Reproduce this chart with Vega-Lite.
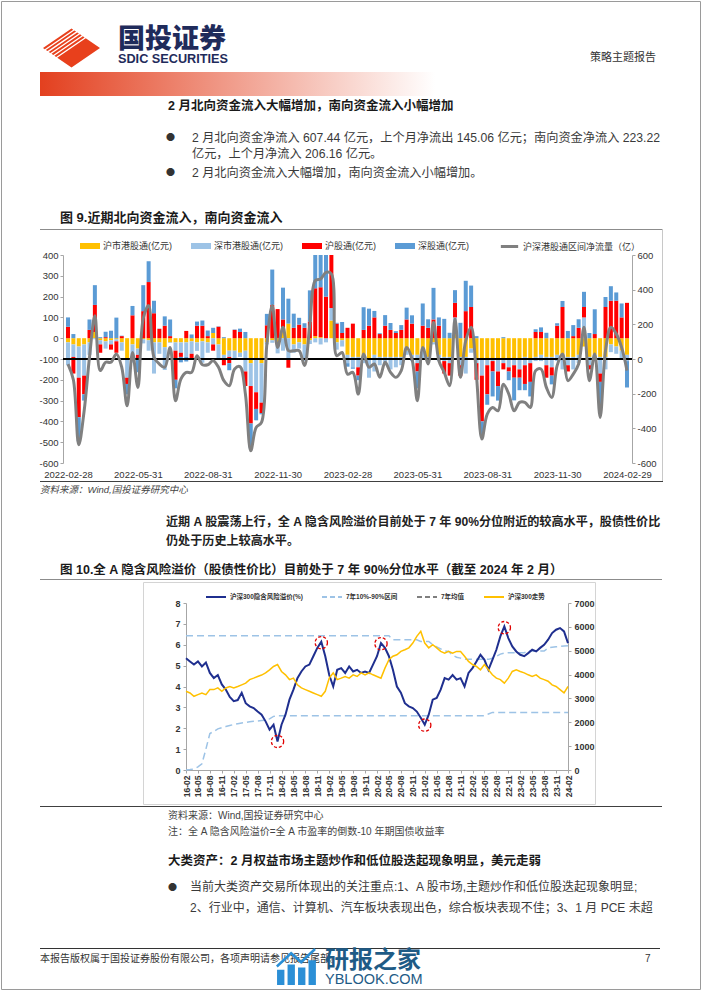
{
"$schema":"https://vega.github.io/schema/vega-lite/v6.json",
"background":"white","padding":0,"spacing":0,"bounds":"flush",
"resolve":{"scale":{"color":"independent","stroke":"independent","strokeDash":"independent"},"legend":{"color":"independent","stroke":"independent","strokeDash":"independent"}},
"config":{"font":"Liberation Sans, Noto Sans CJK SC","view":{"stroke":null},
"locale":{"number":{"decimal":".","thousands":"","grouping":[3],"currency":["",""],"minus":"-"}},
"axis":{"labelFont":"Liberation Sans, Noto Sans CJK SC","labelColor":"#333333","domainColor":"#a6a6a6","tickColor":"#a6a6a6","grid":false,"labelOverlap":false},
"legend":{"labelFont":"Liberation Sans, Noto Sans CJK SC","labelColor":"#333333"}},
"vconcat":[
{"width":702,"height":1,"data":{"values":[{}]},"mark":{"type":"point","size":0,"opacity":0}},
{"hconcat":[
 {"width":1,"height":1,"data":{"values":[{}]},"mark":{"type":"point","size":0,"opacity":0}},
 {"width":699,"height":988,"data":{"values":[{}]},"mark":{"type":"point","size":0,"opacity":0},"view":{"stroke":"#9a9a9a","strokeWidth":1,"fill":null}}
],"spacing":0,"bounds":"flush"},
{"width":702,"height":27,"data":{"values":[{}]},"mark":{"type":"point","size":0,"opacity":0}},
{"hconcat":[
 {"width":40,"height":40,"data":{"values":[{}]},"mark":{"type":"point","size":0,"opacity":0}},
 {"width":60,"height":40,"data":{"values":[{}]},"mark":{"type":"point","filled":true,"opacity":1,"size":3600,"color":"#e8401c","strokeWidth":0,"shape":"M-0.9,0L0.05,-0.65L0.107,-0.611L-0.843,0.039Z M-0.805,0.065L0.145,-0.585L0.202,-0.546L-0.748,0.104Z M-0.71,0.13L0.24,-0.52L0.297,-0.481L-0.653,0.169Z M-0.615,0.195L0.335,-0.455L0.392,-0.416L-0.558,0.234Z M-0.52,0.26L0.43,-0.39L0.487,-0.351L-0.463,0.299Z M-0.425,0.325L0.525,-0.325L1,0L0.05,0.65Z"}},
 {"width":18,"height":40,"data":{"values":[{}]},"mark":{"type":"point","size":0,"opacity":0}},
 {"width":112,"height":40,"data":{"values":[{}]},"mark":{"type":"point","size":0,"opacity":0},
  "title":{"text":"国投证券","subtitle":"SDIC SECURITIES","anchor":"start","frame":"group","offset":-39,"font":"Noto Sans CJK SC","fontSize":27,"fontWeight":900,"color":"#1f2b5b","subtitleFont":"Liberation Sans","subtitleFontSize":12.7,"subtitleFontWeight":"bold","subtitleColor":"#1f2b5b","subtitlePadding":-1}},
 {"width":360,"height":40,"data":{"values":[{}]},"mark":{"type":"point","size":0,"opacity":0}},
 {"width":80,"height":40,"data":{"values":[{}]},"mark":{"type":"point","size":0,"opacity":0},
  "title":{"text":"策略主题报告","anchor":"start","frame":"group","offset":-35,"font":"Noto Sans CJK SC","fontSize":11,"fontWeight":"normal","color":"#333333"}}
],"spacing":0,"bounds":"flush"},
{"width":702,"height":44,"data":{"values":[{}]},"mark":{"type":"point","size":0,"opacity":0}},
{"hconcat":[
 {"width":40,"height":24,"data":{"values":[{}]},"mark":{"type":"point","size":0,"opacity":0}},
 {"width":395,"height":24,"data":{"values":[{}]},"mark":{"type":"point","size":0,"opacity":0},
  "view":{"stroke":null,"fill":{"gradient":"linear","x1":0,"y1":0,"x2":1,"y2":0,"stops":[{"offset":0,"color":"#e3401f"},{"offset":1,"color":"#ffffff"}]}}}
],"spacing":0,"bounds":"flush"},
{"width":702,"height":40,"data":{"values":[{}]},"mark":{"type":"point","size":0,"opacity":0}},
{"width":702,"height":30,"data":{"values":[{}]},"mark":{"type":"point","size":0,"opacity":0},
 "title":{"text":"2 月北向资金流入大幅增加，南向资金流入小幅增加","anchor":"start","frame":"group","offset":0,"dx":168,"fontSize":12.5,"fontWeight":"bold","color":"#1a1a1a"}},
{"width":702,"height":18,"data":{"values":[{}]},"mark":{"type":"point","size":0,"opacity":0},
 "title":{"text":"●","anchor":"start","frame":"group","offset":0,"dx":166,"font":"Noto Sans CJK SC","fontSize":9,"fontWeight":"normal","color":"#333333"}},
{"width":702,"height":17,"data":{"values":[{}]},"mark":{"type":"point","size":0,"opacity":0},
 "title":{"text":["2 月北向资金净流入 607.44 亿元，上个月净流出 145.06 亿元；南向资金净流入 223.22","亿元，上个月净流入 206.16 亿元。"],"anchor":"start","frame":"group","offset":0,"dx":192,"fontSize":12.2,"lineHeight":16,"fontWeight":"normal","color":"#3a3a3a"}},
{"width":702,"height":2,"data":{"values":[{}]},"mark":{"type":"point","size":0,"opacity":0},
 "title":{"text":"●","anchor":"start","frame":"group","offset":0,"dx":166,"font":"Noto Sans CJK SC","fontSize":9,"fontWeight":"normal","color":"#333333"}},
{"width":702,"height":46,"data":{"values":[{}]},"mark":{"type":"point","size":0,"opacity":0},
 "title":{"text":"2 月北向资金流入大幅增加，南向资金流入小幅增加。","anchor":"start","frame":"group","offset":0,"dx":192,"fontSize":12.2,"fontWeight":"normal","color":"#3a3a3a"}},
{"width":702,"height":4,"data":{"values":[{}]},"mark":{"type":"point","size":0,"opacity":0},
 "title":{"text":"图 9.近期北向资金流入，南向资金流入","anchor":"start","frame":"group","offset":0,"dx":60,"fontSize":13,"fontWeight":"bold","color":"#1a1a1a"}},
{"hconcat":[
 {"width":40,"height":1,"data":{"values":[{}]},"mark":{"type":"point","size":0,"opacity":0}},
 {"width":622,"height":1,"data":{"values":[{}]},"mark":{"type":"point","size":0,"opacity":0},"view":{"stroke":null,"fill":"#8c8c8c"}},
 {"width":1,"height":252,"data":{"values":[{}]},"mark":{"type":"point","size":0,"opacity":0},"view":{"stroke":null,"fill":"#c8c8c8"}}
],"spacing":0,"bounds":"flush"},
{"width":702,"height":26,"data":{"values":[{}]},"mark":{"type":"point","size":0,"opacity":0}},
{"hconcat":[
 {"width":63,"height":208,"data":{"values":[{}]},"mark":{"type":"point","size":0,"opacity":0}},
 {"width":569,"height":208,
  "data":{"values":[
{"i":0,"a":-20,"b":-110,"c":55,"d":45,"n":-29},
{"i":1,"a":-30,"b":-60,"c":-80,"d":20,"n":-120},
{"i":2,"a":-40,"b":-150,"c":-190,"d":-115,"n":-495},
{"i":3,"a":-30,"b":-150,"c":-90,"d":-30,"n":-300},
{"i":4,"a":-20,"b":-60,"c":40,"d":50,"n":10},
{"i":5,"a":30,"b":-5,"c":130,"d":95,"n":250},
{"i":6,"a":-10,"b":-20,"c":-40,"d":5,"n":-67},
{"i":7,"a":-15,"b":-35,"c":5,"d":26,"n":-19},
{"i":8,"a":-10,"b":-20,"c":-25,"d":36,"n":-19},
{"i":9,"a":-5,"b":-10,"c":-55,"d":99,"n":29},
{"i":10,"a":-20,"b":-40,"c":10,"d":2,"n":-48},
{"i":11,"a":-100,"b":-90,"c":-30,"d":-50,"n":-270},
{"i":12,"a":-30,"b":-87,"c":110,"d":45,"n":38},
{"i":13,"a":-50,"b":-30,"c":-25,"d":-59,"n":-164},
{"i":14,"a":-5,"b":-20,"c":130,"d":125,"n":235},
{"i":15,"a":-10,"b":-50,"c":270,"d":100,"n":308},
{"i":16,"a":-20,"b":-150,"c":120,"d":60,"n":10},
{"i":17,"a":-20,"b":-55,"c":45,"d":1,"n":-29},
{"i":18,"a":-43,"b":-110,"c":60,"d":45,"n":-48},
{"i":19,"a":-20,"b":-3,"c":10,"d":80,"n":67},
{"i":20,"a":-20,"b":-40,"c":-140,"d":-41,"n":-241},
{"i":21,"a":-20,"b":-50,"c":-20,"d":-26,"n":-116},
{"i":22,"a":-20,"b":-70,"c":35,"d":-22,"n":-77},
{"i":23,"a":-15,"b":-60,"c":-20,"d":18,"n":-77},
{"i":24,"a":-20,"b":-41,"c":60,"d":20,"n":19},
{"i":25,"a":-15,"b":-103,"c":60,"d":25,"n":-33},
{"i":26,"a":-20,"b":-50,"c":10,"d":27,"n":-33},
{"i":27,"a":25,"b":-30,"c":-30,"d":25,"n":-10},
{"i":28,"a":-30,"b":-75,"c":55,"d":2,"n":-48},
{"i":29,"a":-80,"b":-20,"c":-30,"d":5,"n":-125},
{"i":30,"a":-60,"b":-30,"c":-30,"d":-34,"n":-154},
{"i":31,"a":-60,"b":-40,"c":40,"d":2,"n":-58},
{"i":32,"a":-70,"b":-20,"c":30,"d":16,"n":-44},
{"i":33,"a":-60,"b":-100,"c":-70,"d":30,"n":-200},
{"i":34,"a":-120,"b":-110,"c":-180,"d":-120,"n":-530},
{"i":35,"a":-100,"b":-160,"c":-80,"d":-55,"n":-395},
{"i":36,"a":-120,"b":-190,"c":-50,"d":-6,"n":-366},
{"i":37,"a":-20,"b":-10,"c":62,"d":55,"n":87},
{"i":38,"a":-10,"b":-12,"c":160,"d":170,"n":308},
{"i":39,"a":-20,"b":-53,"c":140,"d":0,"n":67},
{"i":40,"a":50,"b":-60,"c":40,"d":153,"n":183},
{"i":41,"a":70,"b":-100,"c":-42,"d":120,"n":48},
{"i":42,"a":-30,"b":-40,"c":50,"d":68,"n":48},
{"i":43,"a":-20,"b":-30,"c":65,"d":33,"n":48},
{"i":44,"a":-30,"b":-80,"c":50,"d":22,"n":-38},
{"i":45,"a":-10,"b":-18,"c":80,"d":150,"n":202},
{"i":46,"a":10,"b":-20,"c":230,"d":233,"n":453},
{"i":47,"a":5,"b":-30,"c":240,"d":247,"n":462},
{"i":48,"a":0,"b":-20,"c":200,"d":320,"n":500},
{"i":49,"a":85,"b":60,"c":260,"d":86,"n":491},
{"i":50,"a":-20,"b":-35,"c":70,"d":4,"n":19},
{"i":51,"a":-10,"b":-30,"c":25,"d":53,"n":38},
{"i":52,"a":-80,"b":-40,"c":50,"d":-17,"n":-87},
{"i":53,"a":-90,"b":-50,"c":70,"d":-7,"n":-77},
{"i":54,"a":-90,"b":-50,"c":-40,"d":-22,"n":-202},
{"i":55,"a":-90,"b":-30,"c":40,"d":109,"n":29},
{"i":56,"a":-100,"b":-90,"c":60,"d":82,"n":-48},
{"i":57,"a":-80,"b":-80,"c":100,"d":31,"n":-29},
{"i":58,"a":-90,"b":-40,"c":20,"d":4,"n":-106},
{"i":59,"a":-90,"b":-40,"c":60,"d":51,"n":-19},
{"i":60,"a":-90,"b":-60,"c":40,"d":33,"n":-77},
{"i":61,"a":-90,"b":-50,"c":25,"d":9,"n":-106},
{"i":62,"a":-90,"b":-40,"c":40,"d":23,"n":-67},
{"i":63,"a":-60,"b":-20,"c":90,"d":57,"n":67},
{"i":64,"a":-80,"b":-30,"c":70,"d":40,"n":0},
{"i":65,"a":-80,"b":-40,"c":-40,"d":-81,"n":-241},
{"i":66,"a":-60,"b":-40,"c":60,"d":107,"n":67},
{"i":67,"a":-90,"b":-30,"c":50,"d":41,"n":-29},
{"i":68,"a":-20,"b":-10,"c":90,"d":152,"n":212},
{"i":69,"a":-80,"b":-30,"c":60,"d":40,"n":-10},
{"i":70,"a":-90,"b":-20,"c":-60,"d":93,"n":-77},
{"i":71,"a":-90,"b":-30,"c":-60,"d":26,"n":-154},
{"i":72,"a":20,"b":80,"c":70,"d":61,"n":231},
{"i":73,"a":-90,"b":-40,"c":-50,"d":74,"n":-106},
{"i":74,"a":-90,"b":-80,"c":130,"d":146,"n":106},
{"i":75,"a":-50,"b":-20,"c":150,"d":103,"n":183},
{"i":76,"a":-100,"b":-20,"c":-80,"d":10,"n":-100},
{"i":77,"a":-100,"b":-80,"c":-220,"d":-70,"n":-462},
{"i":78,"a":-100,"b":-30,"c":-140,"d":-50,"n":-318},
{"i":79,"a":-100,"b":-10,"c":-50,"d":-120,"n":-280},
{"i":80,"a":-100,"b":-60,"c":-70,"d":-70,"n":-299},
{"i":81,"a":-100,"b":-20,"c":-30,"d":5,"n":-145},
{"i":82,"a":-100,"b":-40,"c":-20,"d":-42,"n":-202},
{"i":83,"a":-100,"b":-30,"c":-60,"d":-109,"n":-299},
{"i":84,"a":-100,"b":-50,"c":-40,"d":-60,"n":-250},
{"i":85,"a":-90,"b":-40,"c":-90,"d":-30,"n":-250},
{"i":86,"a":-100,"b":-20,"c":-90,"d":-70,"n":-280},
{"i":87,"a":-90,"b":-20,"c":30,"d":13,"n":-67},
{"i":88,"a":-80,"b":-30,"c":30,"d":22,"n":-58},
{"i":89,"a":-90,"b":-40,"c":-60,"d":26,"n":-164},
{"i":90,"a":-90,"b":-50,"c":-40,"d":-42,"n":-222},
{"i":91,"a":-80,"b":-30,"c":60,"d":12,"n":-38},
{"i":92,"a":-90,"b":-60,"c":150,"d":29,"n":29},
{"i":93,"a":-90,"b":-40,"c":-30,"d":35,"n":-125},
{"i":94,"a":-90,"b":-60,"c":10,"d":53,"n":-87},
{"i":95,"a":-80,"b":-40,"c":50,"d":41,"n":-29},
{"i":96,"a":-40,"b":100,"c":50,"d":73,"n":183},
{"i":97,"a":-90,"b":-40,"c":-20,"d":25,"n":-125},
{"i":98,"a":-80,"b":-30,"c":20,"d":119,"n":29},
{"i":99,"a":-90,"b":-80,"c":-40,"d":-127,"n":-337},
{"i":100,"a":-90,"b":-60,"c":150,"d":48,"n":48},
{"i":101,"a":-30,"b":-37,"c":180,"d":70,"n":183},
{"i":102,"a":-40,"b":-35,"c":180,"d":40,"n":145},
{"i":103,"a":-60,"b":-40,"c":100,"d":67,"n":67},
{"i":104,"a":-80,"b":-30,"c":170,"d":-127,"n":-67}
  ]},
  "layer":[
   {"transform":[{"fold":["a","b","c","d"],"as":["k","v"]}],
    "mark":{"type":"bar","width":4,"clip":true},
    "encoding":{
     "x":{"field":"i","type":"quantitative","scale":{"domain":[0,104],"nice":false,"zero":false},
      "axis":{"values":[0,13,26,39,52,65,78,91,104],"labelExpr":"['2022-02-28','2022-05-31','2022-08-31','2022-11-30','2023-02-28','2023-05-31','2023-08-31','2023-11-30','2024-02-29'][round(datum.value/13)]","domain":false,"ticks":false,"labelPadding":6,"labelFontSize":9.5,"labelOverlap":false,"labelFlush":false,"title":null}},
     "y":{"field":"v","type":"quantitative","stack":"zero","scale":{"domain":[-600,400],"nice":false},
      "axis":{"orient":"left","values":[-600,-500,-400,-300,-200,-100,0,100,200,300,400],"format":"d","labelFontSize":9.5,"tickSize":3,"labelPadding":2,"labelOverlap":false,"title":null}},
     "color":{"field":"k","type":"nominal","scale":{"domain":["a","b","c","d"],"range":["#FFC000","#9DC3E6","#FF0000","#5B9BD5"]},
      "legend":{"orient":"none","legendX":17,"legendY":-19,"direction":"horizontal","title":null,"symbolType":"M-1,-0.3H1V0.3H-1Z","symbolSize":400,"symbolStrokeWidth":0,"labelFontSize":9,"columnPadding":19,"labelOffset":3,"labelExpr":"['沪市港股通(亿元)','深市港股通(亿元)','沪股通(亿元)','深股通(亿元)'][indexof(['a','b','c','d'], datum.value)]"}},
     "order":{"field":"k","type":"ordinal","sort":"ascending"}
    }},
   {"mark":{"type":"rule","color":"#000000","strokeWidth":1},
    "encoding":{"y":{"datum":-100,"type":"quantitative","scale":{"domain":[-600,400],"nice":false},"axis":null}}},
   {"mark":{"type":"line","interpolate":"catmull-rom","strokeWidth":3,"clip":true},
    "encoding":{
     "x":{"field":"i","type":"quantitative"},
     "y":{"field":"n","type":"quantitative","scale":{"domain":[-600,600],"nice":false},
      "axis":{"orient":"right","values":[-600,-400,-200,0,200,400,600],"format":"d","labelFontSize":9.5,"tickSize":3,"labelPadding":2,"labelOverlap":false,"title":null}},
     "stroke":{"datum":"沪深港股通区间净流量（亿）","type":"nominal","scale":{"range":["#808080"]},
      "legend":{"orient":"none","legendX":436,"legendY":-19,"title":null,"symbolType":"stroke","symbolSize":300,"symbolStrokeWidth":3,"labelFontSize":9,"labelOffset":3}}
    }}
  ],
  "resolve":{"scale":{"y":"independent"}}
 }
],"spacing":0,"bounds":"flush","resolve":{"scale":{"color":"independent","stroke":"independent"},"legend":{"color":"independent","stroke":"independent"}}},
{"width":702,"height":226,"data":{"values":[{}]},"mark":{"type":"point","size":0,"opacity":0}},
{"hconcat":[
 {"width":40,"height":1,"data":{"values":[{}]},"mark":{"type":"point","size":0,"opacity":0}},
 {"width":623,"height":1,"data":{"values":[{}]},"mark":{"type":"point","size":0,"opacity":0},"view":{"stroke":null,"fill":"#404040"}}
],"spacing":0,"bounds":"flush"},
{"width":702,"height":13,"data":{"values":[{}]},"mark":{"type":"point","size":0,"opacity":0}},
{"width":702,"height":53,"data":{"values":[{}]},"mark":{"type":"point","size":0,"opacity":0},
 "title":{"text":"资料来源：Wind,国投证券研究中心","anchor":"start","frame":"group","offset":0,"dx":40,"fontSize":9.5,"fontStyle":"italic","fontWeight":"normal","color":"#444444"}},
{"width":702,"height":29,"data":{"values":[{}]},"mark":{"type":"point","size":0,"opacity":0},
 "title":{"text":["近期 A 股震荡上行，全 A 隐含风险溢价目前处于 7 年 90%分位附近的较高水平，股债性价比","仍处于历史上较高水平。"],"anchor":"start","frame":"group","offset":0,"dx":166,"fontSize":12.1,"lineHeight":19,"fontWeight":"bold","color":"#222222"}},
{"width":702,"height":3,"data":{"values":[{}]},"mark":{"type":"point","size":0,"opacity":0},
 "title":{"text":"图 10.全 A 隐含风险溢价（股债性价比）目前处于 7 年 90%分位水平（截至 2024 年 2 月）","anchor":"start","frame":"group","offset":0,"dx":60,"fontSize":12.5,"fontWeight":"bold","color":"#1a1a1a"}},
{"hconcat":[
 {"width":40,"height":1,"data":{"values":[{}]},"mark":{"type":"point","size":0,"opacity":0}},
 {"width":622,"height":1,"data":{"values":[{}]},"mark":{"type":"point","size":0,"opacity":0},"view":{"stroke":null,"fill":"#8c8c8c"}}
],"spacing":0,"bounds":"flush"},
{"width":702,"height":3,"data":{"values":[{}]},"mark":{"type":"point","size":0,"opacity":0}},
{"hconcat":[
 {"width":143,"height":1,"data":{"values":[{}]},"mark":{"type":"point","size":0,"opacity":0}},
 {"width":452,"height":222,"data":{"values":[{}]},"mark":{"type":"point","size":0,"opacity":0},"view":{"stroke":"#d4d4d4","strokeWidth":1,"fill":null}}
],"spacing":0,"bounds":"flush"},
{"width":702,"height":21,"data":{"values":[{}]},"mark":{"type":"point","size":0,"opacity":0}},
{"hconcat":[
 {"width":186,"height":167,"data":{"values":[{}]},"mark":{"type":"point","size":0,"opacity":0}},
 {"width":382,"height":167,
  "data":{"values":[
{"t":0,"p":5.35,"hi":6.43,"lo":0,"avg":3.75,"hs":3300},
{"t":1,"p":5.2,"hi":6.43,"lo":0.02,"hs":3230},
{"t":2,"p":5.05,"hi":6.43,"lo":0.05,"avg":3.8,"hs":3090},
{"t":3,"p":5.2,"hi":6.43,"lo":0.15,"hs":3160},
{"t":4,"p":4.96,"hi":6.43,"lo":0.3,"avg":3.87,"hs":3230},
{"t":5,"p":5.15,"hi":6.43,"lo":1.0,"hs":3160},
{"t":6,"p":4.65,"hi":6.43,"lo":1.75,"avg":3.95,"hs":3370},
{"t":7,"p":4.4,"hi":6.43,"lo":1.85,"hs":3370},
{"t":8,"p":4.55,"hi":6.43,"lo":1.97,"avg":4.02,"hs":3440},
{"t":9,"p":4.1,"hi":6.43,"lo":2.03,"hs":3300},
{"t":10,"p":3.85,"hi":6.43,"lo":2.08,"avg":4.1,"hs":3440},
{"t":11,"p":3.5,"hi":6.43,"lo":2.13,"hs":3500},
{"t":12,"p":3.3,"hi":6.43,"lo":2.18,"avg":4.17,"hs":3440},
{"t":13,"p":3.35,"hi":6.43,"lo":2.22,"hs":3500},
{"t":14,"p":3.7,"hi":6.43,"lo":2.25,"avg":4.24,"hs":3570},
{"t":15,"p":3.2,"hi":6.43,"lo":2.28,"hs":3640},
{"t":16,"p":3.05,"hi":6.43,"lo":2.31,"avg":4.3,"hs":3790},
{"t":17,"p":2.97,"hi":6.43,"lo":2.33,"hs":3850},
{"t":18,"p":2.8,"hi":6.43,"lo":2.35,"avg":4.35,"hs":3920},
{"t":19,"p":2.65,"hi":6.43,"lo":2.37,"hs":3980},
{"t":20,"p":2.33,"hi":6.43,"lo":2.39,"avg":4.4,"hs":4070},
{"t":21,"p":1.93,"hi":6.43,"lo":2.45,"hs":4200},
{"t":22,"p":2.17,"hi":6.43,"lo":2.57,"avg":4.44,"hs":4340},
{"t":23,"p":1.37,"hi":6.43,"lo":2.6,"hs":4420},
{"t":24,"p":2.17,"hi":6.43,"lo":2.6,"avg":4.48,"hs":4130},
{"t":25,"p":2.65,"hi":6.43,"lo":2.6,"hs":3990},
{"t":26,"p":3.37,"hi":6.43,"lo":2.6,"avg":4.52,"hs":3790},
{"t":27,"p":3.85,"hi":6.43,"lo":2.6,"hs":3850},
{"t":28,"p":4.4,"hi":6.43,"lo":2.6,"avg":4.55,"hs":3570},
{"t":29,"p":4.72,"hi":6.43,"lo":2.6,"hs":3440},
{"t":30,"p":4.96,"hi":6.43,"lo":2.6,"avg":4.57,"hs":3370},
{"t":31,"p":5.05,"hi":6.43,"lo":2.6,"hs":3300},
{"t":32,"p":5.45,"hi":6.43,"lo":2.6,"avg":4.59,"hs":3230},
{"t":33,"p":5.85,"hi":6.43,"lo":2.6,"hs":3160},
{"t":34,"p":6.15,"hi":6.43,"lo":2.6,"avg":4.6,"hs":3090},
{"t":35,"p":5.45,"hi":6.43,"lo":2.6,"hs":3300},
{"t":36,"p":4.55,"hi":6.43,"lo":2.6,"avg":4.62,"hs":3850},
{"t":37,"p":4.0,"hi":6.43,"lo":2.6,"hs":4070},
{"t":38,"p":4.8,"hi":6.43,"lo":2.6,"avg":4.63,"hs":3790},
{"t":39,"p":4.88,"hi":6.43,"lo":2.6,"hs":3850},
{"t":40,"p":4.65,"hi":6.43,"lo":2.6,"avg":4.64,"hs":3920},
{"t":41,"p":4.96,"hi":6.43,"lo":2.6,"hs":3850},
{"t":42,"p":4.72,"hi":6.43,"lo":2.6,"avg":4.65,"hs":3990},
{"t":43,"p":4.8,"hi":6.43,"lo":2.6,"hs":3920},
{"t":44,"p":4.65,"hi":6.43,"lo":2.6,"avg":4.66,"hs":4070},
{"t":45,"p":4.72,"hi":6.43,"lo":2.6,"hs":3990},
{"t":46,"p":4.65,"hi":6.43,"lo":2.6,"avg":4.67,"hs":4070},
{"t":47,"p":5.05,"hi":6.43,"lo":2.6,"hs":3990},
{"t":48,"p":5.45,"hi":6.43,"lo":2.6,"avg":4.67,"hs":3920},
{"t":49,"p":6.08,"hi":6.43,"lo":2.6,"hs":3850},
{"t":50,"p":5.85,"hi":6.43,"lo":2.6,"avg":4.66,"hs":4270},
{"t":51,"p":5.45,"hi":6.43,"lo":2.6,"hs":4620},
{"t":52,"p":4.8,"hi":6.24,"lo":2.6,"avg":4.62,"hs":4770},
{"t":53,"p":4.0,"hi":6.24,"lo":2.6,"hs":4830},
{"t":54,"p":3.7,"hi":6.24,"lo":2.6,"avg":4.57,"hs":4970},
{"t":55,"p":3.2,"hi":6.24,"lo":2.6,"hs":5040},
{"t":56,"p":3.05,"hi":6.24,"lo":2.6,"avg":4.5,"hs":5120},
{"t":57,"p":2.97,"hi":6.24,"lo":2.6,"hs":5320},
{"t":58,"p":2.8,"hi":6.24,"lo":2.6,"avg":4.42,"hs":5600},
{"t":59,"p":2.5,"hi":6.16,"lo":2.6,"hs":5810},
{"t":60,"p":2.17,"hi":6.16,"lo":2.6,"avg":4.35,"hs":5320},
{"t":61,"p":2.65,"hi":6.16,"lo":2.6,"hs":5120},
{"t":62,"p":3.37,"hi":6.0,"lo":2.6,"avg":4.27,"hs":5250},
{"t":63,"p":3.45,"hi":5.9,"lo":2.6,"hs":5120},
{"t":64,"p":3.85,"hi":5.8,"lo":2.6,"avg":4.2,"hs":4970},
{"t":65,"p":4.4,"hi":5.7,"lo":2.6,"hs":4900},
{"t":66,"p":4.33,"hi":5.68,"lo":2.6,"avg":4.12,"hs":4970},
{"t":67,"p":4.55,"hi":5.5,"lo":2.6,"hs":4900},
{"t":68,"p":4.33,"hi":5.4,"lo":2.6,"avg":4.06,"hs":4970},
{"t":69,"p":4.4,"hi":5.36,"lo":2.6,"hs":4970},
{"t":70,"p":4.0,"hi":5.3,"lo":2.6,"avg":4.02,"hs":4770},
{"t":71,"p":4.65,"hi":5.3,"lo":2.6,"hs":4550},
{"t":72,"p":4.88,"hi":5.3,"lo":2.6,"avg":4.0,"hs":4420},
{"t":73,"p":5.2,"hi":5.3,"lo":2.6,"hs":4340},
{"t":74,"p":5.52,"hi":5.3,"lo":2.6,"avg":3.99,"hs":4200},
{"t":75,"p":5.28,"hi":5.3,"lo":2.6,"hs":4420},
{"t":76,"p":4.8,"hi":5.3,"lo":2.68,"avg":4.0,"hs":4200},
{"t":77,"p":5.28,"hi":5.35,"lo":2.76,"hs":3990},
{"t":78,"p":5.76,"hi":5.45,"lo":2.76,"avg":4.01,"hs":3850},
{"t":79,"p":6.4,"hi":5.55,"lo":2.76,"hs":3790},
{"t":80,"p":6.88,"hi":5.6,"lo":2.76,"avg":4.02,"hs":3640},
{"t":81,"p":6.32,"hi":5.62,"lo":2.76,"hs":3850},
{"t":82,"p":5.92,"hi":5.62,"lo":2.76,"avg":4.05,"hs":4130},
{"t":83,"p":5.68,"hi":5.62,"lo":2.76,"hs":4200},
{"t":84,"p":5.52,"hi":5.62,"lo":2.76,"avg":4.08,"hs":4130},
{"t":85,"p":5.45,"hi":5.62,"lo":2.76,"hs":4070},
{"t":86,"p":5.6,"hi":5.7,"lo":2.76,"avg":4.11,"hs":3990},
{"t":87,"p":5.76,"hi":5.7,"lo":2.76,"hs":3920},
{"t":88,"p":5.68,"hi":5.7,"lo":2.76,"avg":4.15,"hs":3990},
{"t":89,"p":5.85,"hi":5.7,"lo":2.76,"hs":3850},
{"t":90,"p":6.0,"hi":5.7,"lo":2.76,"avg":4.18,"hs":3790},
{"t":91,"p":6.24,"hi":5.85,"lo":2.76,"hs":3720},
{"t":92,"p":6.56,"hi":5.88,"lo":2.76,"avg":4.22,"hs":3570},
{"t":93,"p":6.72,"hi":5.9,"lo":2.76,"hs":3500},
{"t":94,"p":6.8,"hi":5.92,"lo":2.76,"avg":4.26,"hs":3370},
{"t":95,"p":6.64,"hi":5.94,"lo":2.76,"hs":3230},
{"t":96,"p":6.08,"hi":5.95,"lo":2.76,"avg":4.3,"hs":3500}
  ]},
  "encoding":{
   "x":{"field":"t","type":"quantitative","scale":{"domain":[0,96],"nice":false,"zero":false},
    "axis":{"values":[0,3,6,9,12,15,18,21,24,27,30,33,36,39,42,45,48,51,54,57,60,63,66,69,72,75,78,81,84,87,90,93,96],
     "labelExpr":"(16 + floor((datum.value + 1) / 12)) + '-' + ((((datum.value + 1) % 12) + 1) < 10 ? '0' : '') + (((datum.value + 1) % 12) + 1)",
     "labelAngle":-90,"labelFontSize":8.5,"labelFontWeight":"bold","tickSize":3,"labelPadding":2,"labelOverlap":false,"labelFlush":false,"labelBound":false,"labelSeparation":0,"title":null}}
  },
  "layer":[
   {"transform":[{"fold":["hi","lo","avg"],"as":["s","val"]}],
    "mark":{"type":"line","strokeWidth":1.5},
    "encoding":{
     "y":{"field":"val","type":"quantitative","scale":{"domain":[0,8],"nice":false},
      "axis":{"orient":"left","values":[0,1,2,3,4,5,6,7,8],"labelFontSize":9,"labelFontWeight":"bold","tickSize":3,"labelPadding":3,"labelOverlap":false,"title":null}},
     "color":{"field":"s","type":"nominal",
      "scale":{"domain":["p","hi","avg","hs","lo"],"range":["#1F2F8F","#9DC3E6","#7F7F7F","#FFC000","#9DC3E6"]},
      "legend":{"values":["p","hi","avg","hs"],"orient":"none","legendX":19,"legendY":-17,"direction":"horizontal","title":null,"symbolType":"stroke","symbolSize":400,"symbolStrokeWidth":2,"labelFontSize":6.5,"labelFontWeight":"bold","columnPadding":15,"labelOffset":3,
       "labelExpr":"['沪深300隐含风险溢价(%)','7年10%-90%区间','7年均值','沪深300走势'][indexof(['p','hi','avg','hs'], datum.value)]",
       "encode":{"symbols":{"update":{"strokeDash":{"signal":"datum.value === 'hi' || datum.value === 'avg' ? [5,3] : [1,0]"}}}}}},
     "strokeDash":{"field":"s","type":"nominal","scale":{"domain":["hi","lo","avg"],"range":[[7,4],[7,4],[5,3]]},"legend":null}
    }},
   {"mark":{"type":"line","strokeWidth":2},
    "encoding":{
     "y":{"field":"p","type":"quantitative","scale":{"domain":[0,8],"nice":false},"axis":null},
     "color":{"datum":"p","type":"nominal"}}},
   {"data":{"values":[{"t":23,"p":1.37},{"t":34,"p":6.1},{"t":49,"p":6.05},{"t":60,"p":2.15},{"t":80,"p":6.82}]},
    "mark":{"type":"point","shape":"circle","size":150,"filled":false,"stroke":"#E00000","strokeWidth":1.3,"strokeDash":[3,2],"opacity":1},
    "encoding":{"y":{"field":"p","type":"quantitative","scale":{"domain":[0,8],"nice":false},"axis":null}}},
   {"mark":{"type":"line","strokeWidth":1.5},
    "encoding":{
     "y":{"field":"hs","type":"quantitative","scale":{"domain":[0,7000],"nice":false},
      "axis":{"orient":"right","values":[0,1000,2000,3000,4000,5000,6000,7000],"format":"d","labelFontSize":9,"labelFontWeight":"bold","tickSize":3,"labelPadding":3,"labelOverlap":false,"title":null}},
     "color":{"datum":"hs","type":"nominal"}}}
  ],
  "resolve":{"scale":{"y":"independent"}}
 }
],"spacing":0,"bounds":"flush","resolve":{"scale":{"color":"independent","strokeDash":"independent"},"legend":{"color":"independent","strokeDash":"independent"}}},
{"width":702,"height":203,"data":{"values":[{}]},"mark":{"type":"point","size":0,"opacity":0}},
{"hconcat":[
 {"width":40,"height":1,"data":{"values":[{}]},"mark":{"type":"point","size":0,"opacity":0}},
 {"width":622,"height":1,"data":{"values":[{}]},"mark":{"type":"point","size":0,"opacity":0},"view":{"stroke":null,"fill":"#404040"}}
],"spacing":0,"bounds":"flush"},
{"width":702,"height":31,"data":{"values":[{}]},"mark":{"type":"point","size":0,"opacity":0}},
{"width":702,"height":30,"data":{"values":[{}]},"mark":{"type":"point","size":0,"opacity":0},
 "title":{"text":["资料来源：Wind,国投证券研究中心","注：全 A 隐含风险溢价=全 A 市盈率的倒数-10 年期国债收益率"],"anchor":"start","frame":"group","offset":0,"dx":168,"fontSize":10,"lineHeight":16,"fontWeight":"normal","color":"#444444"}},
{"width":702,"height":25,"data":{"values":[{}]},"mark":{"type":"point","size":0,"opacity":0},
 "title":{"text":"大类资产：2 月权益市场主题炒作和低位股迭起现象明显，美元走弱","anchor":"start","frame":"group","offset":0,"dx":168,"fontSize":12.5,"fontWeight":"bold","color":"#1a1a1a"}},
{"width":702,"height":23,"data":{"values":[{}]},"mark":{"type":"point","size":0,"opacity":0},
 "title":{"text":"●","anchor":"start","frame":"group","offset":0,"dx":168,"font":"Noto Sans CJK SC","fontSize":9,"fontWeight":"normal","color":"#333333"}},
{"width":702,"height":33,"data":{"values":[{}]},"mark":{"type":"point","size":0,"opacity":0},
 "title":{"text":["当前大类资产交易所体现出的关注重点:1、A 股市场,主题炒作和低位股迭起现象明显;","2、行业中，通信、计算机、汽车板块表现出色，综合板块表现不佳；3、1 月 PCE 未超"],"anchor":"start","frame":"group","offset":0,"dx":190,"fontSize":12,"lineHeight":21,"fontWeight":"normal","color":"#3a3a3a"}},
{"hconcat":[
 {"width":40,"height":1,"data":{"values":[{}]},"mark":{"type":"point","size":0,"opacity":0}},
 {"width":620,"height":1,"data":{"values":[{}]},"mark":{"type":"point","size":0,"opacity":0},"view":{"stroke":null,"fill":"#333333"}}
],"spacing":0,"bounds":"flush"},
{"hconcat":[
 {"width":276,"height":37,"data":{"values":[{}]},"mark":{"type":"point","size":0,"opacity":0},
  "title":{"text":"本报告版权属于国投证券股份有限公司，各项声明请参见报告尾部。","anchor":"start","frame":"group","offset":-16,"dx":40,"fontSize":10,"fontWeight":"normal","color":"#333333"}},
 {"width":42,"height":37,"data":{"values":[{}]},"mark":{"type":"point","filled":true,"opacity":1,"size":1764,"color":"#2b8fd6","strokeWidth":0,"shape":"M-0.95,0.15H-0.6V0.88H-0.95Z M-0.45,-0.1H-0.1V0.88H-0.45Z M0.05,0.05H0.4V0.88H0.05Z M0.55,-0.3H0.9V0.88H0.55Z M-1,-0.05L-0.28,-0.72L0.2,-0.3L0.82,-0.88L0.9,-0.78L0.2,-0.12L-0.28,-0.55L-0.92,0.05Z"}},
 {"width":327,"height":37,"data":{"values":[{}]},"mark":{"type":"point","size":0,"opacity":0},
  "title":{"text":"研报之家","subtitle":"YBLOOK.COM","anchor":"start","frame":"group","offset":-38,"dx":7,"font":"Noto Sans CJK SC","fontSize":24,"fontWeight":"bold","color":"#1e5b86","subtitleFont":"Liberation Sans","subtitleFontSize":14.5,"subtitleColor":"#1e5b86","subtitlePadding":0}},
 {"width":30,"height":37,"data":{"values":[{}]},"mark":{"type":"point","size":0,"opacity":0},
  "title":{"text":"7","anchor":"start","frame":"group","offset":-15.7,"dx":0,"fontSize":10,"fontWeight":"normal","color":"#333333"}}
],"spacing":0,"bounds":"flush"}
]
}
